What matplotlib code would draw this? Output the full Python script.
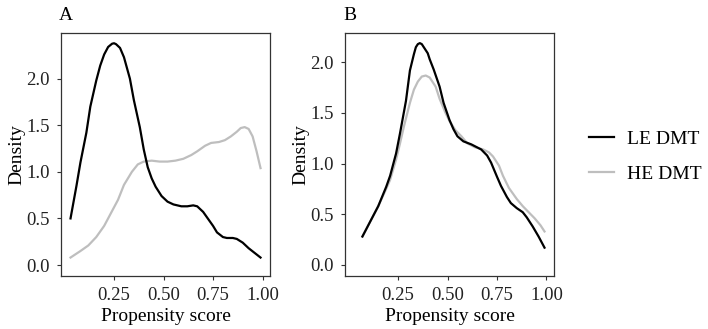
import matplotlib
matplotlib.use("Agg")
from matplotlib import pyplot as plt

plt.rcParams['font.family'] = ['Liberation Serif', 'DejaVu Serif']

# panel A (before matching)
a_le_x = [0.03, 0.06, 0.08, 0.11, 0.13, 0.16, 0.18, 0.20, 0.22, 0.24, 0.25, 0.26, 0.28,
          0.30, 0.33, 0.35, 0.38, 0.40, 0.42, 0.44, 0.46, 0.49, 0.52, 0.55, 0.59, 0.62,
          0.65, 0.67, 0.70, 0.72, 0.75, 0.77, 0.80, 0.82, 0.85, 0.87, 0.90, 0.93, 0.96, 0.99]
a_le_y = [0.50, 0.85, 1.10, 1.42, 1.70, 1.98, 2.14, 2.26, 2.34, 2.375, 2.38, 2.37, 2.33,
          2.23, 2.00, 1.77, 1.48, 1.24, 1.05, 0.93, 0.84, 0.74, 0.68, 0.65, 0.63, 0.63,
          0.64, 0.63, 0.57, 0.51, 0.42, 0.35, 0.30, 0.29, 0.29, 0.28, 0.24, 0.18, 0.13, 0.08]
a_he_x = [0.03, 0.08, 0.12, 0.16, 0.20, 0.23, 0.27, 0.30, 0.34, 0.37, 0.40, 0.44, 0.48,
          0.52, 0.56, 0.60, 0.64, 0.67, 0.71, 0.74, 0.78, 0.81, 0.84, 0.87, 0.89, 0.91,
          0.93, 0.95, 0.97, 0.99]
a_he_y = [0.08, 0.15, 0.21, 0.30, 0.42, 0.54, 0.70, 0.86, 1.00, 1.08, 1.11, 1.12, 1.11,
          1.11, 1.12, 1.14, 1.18, 1.22, 1.28, 1.31, 1.32, 1.34, 1.38, 1.43, 1.47, 1.48,
          1.46, 1.38, 1.22, 1.04]

# panel B (after matching)
b_le_x = [0.07, 0.11, 0.15, 0.19, 0.21, 0.24, 0.26, 0.29, 0.31, 0.33, 0.34, 0.35, 0.36,
          0.37, 0.38, 0.40, 0.41, 0.43, 0.46, 0.48, 0.51, 0.53, 0.55, 0.58, 0.62, 0.65,
          0.67, 0.70, 0.72, 0.75, 0.77, 0.80, 0.82, 0.85, 0.88, 0.90, 0.93, 0.96, 0.99]
b_le_y = [0.28, 0.43, 0.58, 0.77, 0.88, 1.10, 1.30, 1.62, 1.92, 2.08, 2.15, 2.18, 2.19,
          2.18, 2.15, 2.09, 2.03, 1.93, 1.76, 1.60, 1.43, 1.34, 1.27, 1.22, 1.19, 1.16,
          1.14, 1.08, 1.01, 0.87, 0.78, 0.67, 0.61, 0.56, 0.52, 0.47, 0.38, 0.28, 0.17]
b_he_x = [0.07, 0.11, 0.15, 0.19, 0.21, 0.24, 0.26, 0.28, 0.31, 0.33, 0.35, 0.37, 0.39,
          0.41, 0.44, 0.46, 0.49, 0.51, 0.54, 0.57, 0.60, 0.64, 0.68, 0.71, 0.73, 0.76,
          0.78, 0.81, 0.85, 0.88, 0.91, 0.94, 0.97, 0.99]
b_he_y = [0.28, 0.43, 0.58, 0.75, 0.84, 1.04, 1.20, 1.37, 1.60, 1.73, 1.81, 1.86, 1.87,
          1.85, 1.76, 1.64, 1.50, 1.42, 1.33, 1.27, 1.20, 1.16, 1.14, 1.11, 1.07, 0.98,
          0.88, 0.76, 0.65, 0.58, 0.52, 0.46, 0.39, 0.33]

series = ["LE DMT", "HE DMT"]
colors = ["black", "#bebebe"]
x_ticks = [0.25, 0.50, 0.75, 1.00]
y_ticks = [0.0, 0.5, 1.0, 1.5, 2.0]

fig = plt.figure(figsize=(7.08, 3.29), dpi=100)
axA = fig.add_axes([0.0862, 0.1611, 0.2952, 0.7386])
axB = fig.add_axes([0.4873, 0.1611, 0.2952, 0.7386])

panels = [
    (axA, "A", [(a_le_x, a_le_y), (a_he_x, a_he_y)], (-0.118, 2.49)),
    (axB, "B", [(b_le_x, b_le_y), (b_he_x, b_he_y)], (-0.11, 2.29)),
]

for ax, letter, curves, ylim in panels:
    # draw gray first so black sits on top
    for (x, y), name, c in reversed(list(zip(curves, series, colors))):
        ax.plot(x, y, color=c, lw=1.6, label=name, solid_joinstyle="round")
    ax.set_xlim(-0.018, 1.038)
    ax.set_ylim(*ylim)
    ax.set_xticks(x_ticks)
    ax.set_xticklabels(["%.2f" % t for t in x_ticks])
    ax.set_yticks(y_ticks)
    ax.set_yticklabels(["%.1f" % t for t in y_ticks])
    ax.tick_params(labelsize=13.5, length=3, width=0.8, color="#333333", labelcolor="#222222")
    ax.tick_params(axis="x", pad=5)
    ax.tick_params(axis="y", pad=5)
    for s in ax.spines.values():
        s.set_linewidth(0.9)
        s.set_color("#333333")
    ax.set_xlabel("Propensity score", fontsize=14, labelpad=3)
    ax.set_ylabel("Density", fontsize=14, labelpad=1)
    ax.text(-0.01, 1.035, letter, transform=ax.transAxes, fontsize=14, ha="left", va="bottom")

handles, labels = axB.get_legend_handles_labels()
fig.legend(handles[::-1], labels[::-1], loc="center left", bbox_to_anchor=(0.807, 0.523),
           frameon=False, fontsize=14, handlelength=1.3, labelspacing=0.9, handletextpad=0.67)

fig.savefig("out.png", dpi=100)
